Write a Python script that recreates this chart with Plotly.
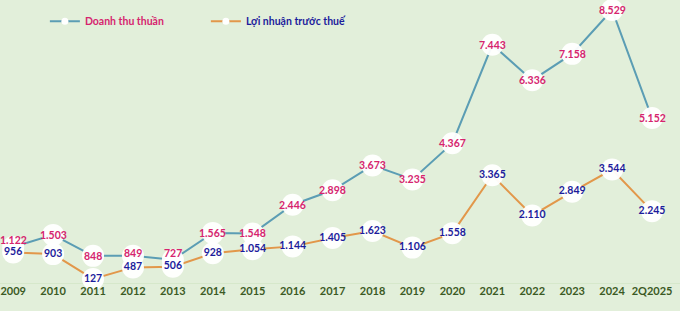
import plotly.graph_objects as go

years = ["2009", "2010", "2011", "2012", "2013", "2014", "2015", "2016", "2017",
         "2018", "2019", "2020", "2021", "2022", "2023", "2024", "2Q2025"]
doanh_thu = [1122, 1503, 848, 849, 727, 1565, 1548, 2446, 2898,
             3673, 3235, 4367, 7443, 6336, 7158, 8529, 5152]
loi_nhuan = [956, 903, 127, 487, 506, 928, 1054, 1144, 1405,
             1623, 1106, 1558, 3365, 2110, 2849, 3544, 2245]

# small upward nudges (px) for revenue labels that sit close to profit labels
label_nudge = {"2009": 7, "2012": 3, "2013": 7}

def fmt(v):
    return f"{v:,}".replace(",", ".")

PINK = "#d6246e"
NAVY = "#1c1c9c"
BLUE_LINE = "#5b9db4"
ORANGE_LINE = "#e2974a"
BG = "#e2efda"
FONT = "Lato"

idx = list(range(len(years)))

fig = go.Figure()

fig.add_trace(go.Scatter(x=idx, y=doanh_thu, mode="lines",
                         line=dict(color=BLUE_LINE, width=2), showlegend=False, hoverinfo="skip"))
fig.add_trace(go.Scatter(x=idx, y=loi_nhuan, mode="lines",
                         line=dict(color=ORANGE_LINE, width=2), showlegend=False, hoverinfo="skip"))
# white marker discs
for series in (doanh_thu, loi_nhuan):
    fig.add_trace(go.Scatter(x=idx, y=series, mode="markers",
                             marker=dict(color="white", size=22, opacity=0.95),
                             showlegend=False, cliponaxis=False, hoverinfo="skip"))
# profit labels
fig.add_trace(go.Scatter(x=idx, y=loi_nhuan, mode="text",
                         text=[fmt(v) for v in loi_nhuan], textposition="middle center",
                         textfont=dict(family=FONT, size=10.5, color=NAVY, weight="bold"),
                         showlegend=False, cliponaxis=False))
# revenue labels
for i, (yr, v) in enumerate(zip(years, doanh_thu)):
    fig.add_annotation(x=i, y=v, text=fmt(v), showarrow=False,
                       yshift=label_nudge.get(yr, 0),
                       font=dict(family=FONT, size=10.5, color=PINK, weight="bold"))

fig.add_trace(go.Scatter(x=[None], y=[None], mode="lines+markers",
                         line=dict(color=BLUE_LINE, width=2),
                         marker=dict(color="white", size=7),
                         name=f"<span style='color:{PINK}'><b>Doanh thu thuần</b></span>"))
fig.add_trace(go.Scatter(x=[None], y=[None], mode="lines+markers",
                         line=dict(color=ORANGE_LINE, width=2),
                         marker=dict(color="white", size=7),
                         name=f"<span style='color:{NAVY}'><b>Lợi nhuận trước thuế</b></span>"))

fig.update_layout(
    width=680, height=311,
    margin=dict(l=0, r=0, t=0, b=28),
    paper_bgcolor=BG, plot_bgcolor=BG,
    font=dict(family=FONT),
    legend=dict(orientation="h", x=0.066, xanchor="left", y=0.925, yanchor="middle",
                font=dict(family=FONT, size=10.5), itemwidth=30, entrywidth=116,
                entrywidthmode="pixels", bgcolor="rgba(0,0,0,0)", traceorder="normal"),
    xaxis=dict(range=[-0.33, 16.7], tickmode="array", tickvals=idx, ticktext=years,
               showgrid=False, zeroline=False, showline=False, ticks="",
               tickfont=dict(family=FONT, size=11, color="#3b5a24", weight="bold")),
    yaxis=dict(range=[0, 8841], showgrid=False, zeroline=True, zerolinecolor="#d6e8cb",
               zerolinewidth=1, showticklabels=False, showline=False),
)

fig.write_html("out.html")
